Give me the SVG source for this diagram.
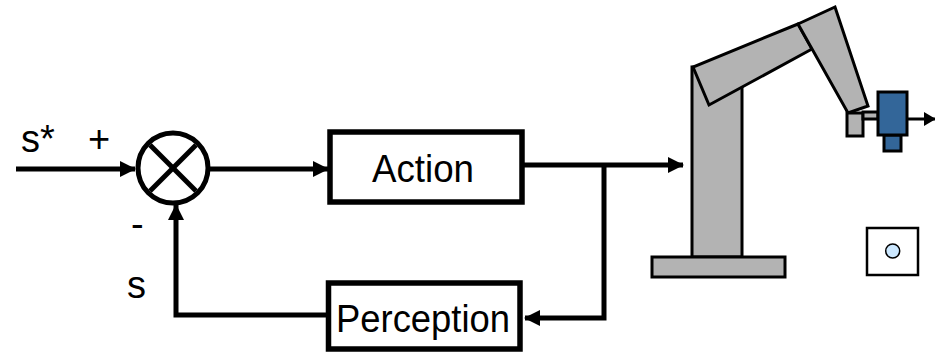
<svg xmlns="http://www.w3.org/2000/svg" width="935" height="357" viewBox="0 0 935 357">
  <defs>
    <marker id="arrow" markerWidth="16" markerHeight="16" refX="15" refY="8" orient="auto" markerUnits="userSpaceOnUse">
      <path d="M0,0 L16,8 L0,16 Z" fill="#000"/>
    </marker>
    <marker id="arrow-sm" markerWidth="12" markerHeight="14" refX="11" refY="7" orient="auto" markerUnits="userSpaceOnUse">
      <path d="M0,0 L12,7 L0,14 Z" fill="#000"/>
    </marker>
  </defs>
  <style>
    .lbl { font-family: "Liberation Sans", Arial, sans-serif; font-size: 38px; fill: #000; }
    .box { fill: #fff; stroke: #000; stroke-width: 5.5; }
    .wire { fill: none; stroke: #000; stroke-width: 5; }
    .part { fill: #b3b3b3; stroke: #000; stroke-width: 3; stroke-linejoin: miter; }
    .cam { fill: #336699; stroke: #000; stroke-width: 3; }
  </style>
  <rect width="935" height="357" fill="#fff"/>

  <!-- signal labels -->
  <text class="lbl" x="21" y="152">s*</text>
  <text class="lbl" x="88" y="152">+</text>
  <text class="lbl" x="131" y="237">-</text>
  <text class="lbl" x="127" y="298">s</text>

  <!-- summing junction -->
  <g id="sum">
    <circle cx="173" cy="168" r="35" fill="#fff" stroke="#000" stroke-width="5"/>
    <line x1="150" y1="145" x2="196" y2="191" stroke="#000" stroke-width="5"/>
    <line x1="196" y1="145" x2="150" y2="191" stroke="#000" stroke-width="5"/>
  </g>

  <!-- controller block -->
  <g id="action">
    <rect class="box" x="330" y="132" width="192" height="70"/>
    <text class="lbl" x="423" y="182" text-anchor="middle" textLength="102" lengthAdjust="spacingAndGlyphs">Action</text>
  </g>

  <!-- sensing block -->
  <g id="perception">
    <rect class="box" x="328.5" y="283" width="191.5" height="66"/>
    <text class="lbl" x="423" y="332" text-anchor="middle" textLength="174" lengthAdjust="spacingAndGlyphs">Perception</text>
  </g>

  <!-- robot arm with camera -->
  <g id="robot">
    <rect class="part" x="692" y="67" width="50" height="190"/>
    <rect class="part" x="652" y="257" width="133" height="20"/>
    <polygon class="part" points="693,67 709,105 812,49 798,24"/>
    <polygon class="part" points="798,24 835,7 868,106 848,113"/>
    <rect class="part" x="847" y="113" width="16" height="23"/>
    <rect class="part" x="863" y="112" width="15" height="7"/>
    <rect class="cam" x="884" y="135" width="17" height="16"/>
    <rect class="cam" x="878" y="92" width="29" height="43"/>
  </g>

  <!-- target -->
  <g id="target">
    <rect x="867" y="228" width="51" height="47" fill="#fff" stroke="#000" stroke-width="2.5"/>
    <circle cx="892.7" cy="251" r="7" fill="#cce8ff" stroke="#000" stroke-width="1.5"/>
  </g>

  <!-- connectors -->
  <g id="connectors">
    <line class="wire" x1="16" y1="169" x2="135" y2="169" marker-end="url(#arrow)"/>
    <line class="wire" x1="210" y1="169" x2="328" y2="169" marker-end="url(#arrow)"/>
    <line class="wire" x1="522" y1="165" x2="683" y2="165" marker-end="url(#arrow)"/>
    <polyline class="wire" points="604,165 604,318 525,318" marker-end="url(#arrow)"/>
    <polyline class="wire" points="328,315 176,315 176,205" marker-end="url(#arrow)"/>
    <line x1="907" y1="119" x2="935" y2="119" stroke="#000" stroke-width="3" marker-end="url(#arrow-sm)"/>
  </g>
</svg>
